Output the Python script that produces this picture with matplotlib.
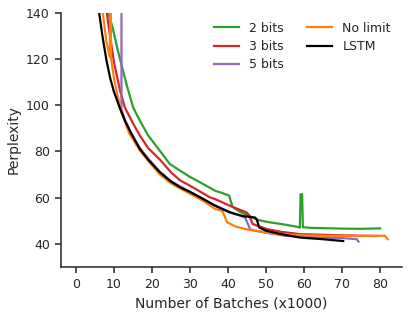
import matplotlib
matplotlib.use("Agg")
import matplotlib.pyplot as plt

# perplexity curves (x in thousands of batches)
bits2_x = [8.5, 9.7, 11, 12.4, 13.5, 15.1, 16.8, 19, 22, 24.7, 27.4, 30, 32.6, 35, 36.6, 38.5, 40.3,
           41.2, 43, 45, 48, 51, 54, 58.5, 58.9, 59.1, 59.5, 59.7, 62, 65, 70, 75, 80]
bits2_y = [140.5, 133.5, 124, 115, 108, 99, 93.5, 87, 80.5, 74.6, 71.7, 69, 66.7, 64.5, 63, 62, 60.9,
           56, 54, 52.5, 50.3, 49.3, 48.6, 47.3, 47, 61.5, 61.5, 47.2, 46.9, 46.8, 46.6, 46.5, 46.7]

bits3_x = [8.1, 9, 10, 11.6, 12.9, 15.1, 16.8, 19, 22.1, 25, 27.4, 30, 35.3, 36.6, 40.5, 44.9,
           45.5, 46.5, 50, 54, 59, 65, 70, 75, 79]
bits3_y = [140.5, 130, 119, 106.5, 99, 92, 87, 81.5, 76.5, 71, 67.5, 65.2, 60.1, 59.4, 56.5, 53.6,
           52.5, 48.6, 46.5, 45.2, 44.2, 43.9, 43.7, 43.5, 43.4]

bits5_x = [12.0, 12.0, 13, 14.5, 16.8, 19, 22.1, 25, 30, 33.5, 36.6, 40.5, 43.5, 44.5, 45.8, 47,
           49.7, 55, 60, 65, 70, 73.9, 74.3]
bits5_y = [140.5, 98, 93.5, 88, 81.5, 77, 71.2, 67.2, 62.5, 59.5, 56.7, 53.8, 52, 51.4, 46.4, 45.7,
           44.9, 43.5, 43, 42.7, 42.5, 42, 41]

nolimit_x = [7.0, 8.0, 8.9, 9.1, 9.3, 10, 11, 12, 14, 16.8, 19, 22, 25, 30, 33.5, 36.6, 38.5,
             39.8, 42, 44.5, 48, 52, 55, 60, 65, 70, 75, 80, 81.3, 82]
nolimit_y = [141, 128, 121, 141, 120, 112, 104, 97, 88, 80.5, 76, 70.2, 66.2, 61.7, 58.6, 55.1, 54.3,
             49.3, 47.5, 46.4, 45.5, 44.5, 44, 43.7, 43.5, 43.5, 43.4, 43.5, 43.5, 42]

lstm_x = [6.1, 7, 8, 9, 10, 11.6, 13, 14.5, 16.8, 19, 22.1, 25, 27.4, 30, 33.5, 36.6, 40.5, 44,
          47.1, 47.6, 48.2, 50, 54, 59, 65, 70.3]
lstm_y = [140.5, 130, 120, 112, 106, 98.7, 93, 88, 81.2, 76.5, 71, 67, 64.5, 62.5, 59.4, 56.5, 53.6, 52,
          51.4, 50.5, 47.1, 45.7, 44.2, 42.7, 42, 41.2]

plt.rcParams["font.family"] = "DejaVu Sans"
plt.rcParams["text.color"] = "#262626"
plt.rcParams["axes.labelcolor"] = "#262626"
plt.rcParams["xtick.color"] = "#262626"
plt.rcParams["ytick.color"] = "#262626"

fig = plt.figure(figsize=(4.15, 3.17), dpi=100)
ax = fig.add_axes([0.147, 0.158, 0.822, 0.801])

lw = 1.6
ax.plot(bits2_x, bits2_y, color="#2ca02c", lw=lw, label="2 bits")
ax.plot(bits3_x, bits3_y, color="#d62728", lw=lw, label="3 bits")
ax.plot(bits5_x, bits5_y, color="#9467bd", lw=lw, label="5 bits")
ax.plot(nolimit_x, nolimit_y, color="#ff7f0e", lw=lw, label="No limit")
ax.plot(lstm_x, lstm_y, color="black", lw=lw, label="LSTM")

ax.set_xlim(-3.9, 85.8)
ax.set_ylim(30, 140)
ax.set_xticks(range(0, 81, 10))
ax.set_yticks(range(40, 141, 20))
ax.set_xlabel("Number of Batches (x1000)", fontsize=10)
ax.set_ylabel("Perplexity", fontsize=10)
ax.tick_params(labelsize=9, length=4.5, width=1.1, colors="#262626")
for s in ["top", "right"]:
    ax.spines[s].set_visible(False)
for s in ["left", "bottom"]:
    ax.spines[s].set_linewidth(1.1)
    ax.spines[s].set_color("#262626")

ax.legend(ncol=2, frameon=False, fontsize=9, loc="upper right",
          bbox_to_anchor=(1.0, 1.01), columnspacing=1.9, labelspacing=0.42)

fig.savefig("out.png", dpi=100)
